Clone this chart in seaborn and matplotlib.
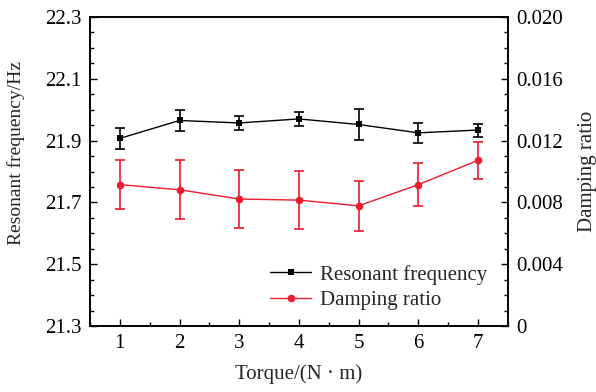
import matplotlib
matplotlib.use("Agg")
import matplotlib.pyplot as plt
import numpy as np
import pandas as pd
import seaborn as sns
from matplotlib.ticker import MultipleLocator, FixedLocator

# Data
torque = [1, 2, 3, 4, 5, 6, 7]
freq = [21.907, 21.965, 21.957, 21.970, 21.952, 21.925, 21.934]
freq_err = [0.035, 0.035, 0.023, 0.023, 0.050, 0.033, 0.021]
damping = [0.00915, 0.00882, 0.00822, 0.00815, 0.00778, 0.00915, 0.01072]
damping_err = [0.0016, 0.0019, 0.0019, 0.0019, 0.0016, 0.0014, 0.0012]
freq_ticks = [21.3, 21.5, 21.7, 21.9, 22.1, 22.3]
damp_ticks = [0, 0.004, 0.008, 0.012, 0.016, 0.020]

df = pd.DataFrame({"Torque": torque, "Freq": freq, "FreqErr": freq_err,
                   "Damping": damping, "DampErr": damping_err})

sns.set_style("white")
plt.rcParams["font.family"] = ["Liberation Serif", "DejaVu Serif"]

red = "#ee1a2e"
fs = 15

fig = plt.figure(figsize=(5.96, 3.92), dpi=100)
ax = fig.add_axes([0.151, 0.168, 0.701, 0.789])
ax2 = ax.twinx()

# Resonant frequency
sns.lineplot(data=df, x="Torque", y="Freq", ax=ax, color="black", marker="s",
             markersize=5, markeredgewidth=0, linewidth=1.0, label="Resonant frequency",
             legend=False)
ax.errorbar(df["Torque"], df["Freq"], yerr=df["FreqErr"], fmt="none",
            ecolor="black", elinewidth=1.2, capsize=3.5, capthick=1.2)

# Damping ratio
sns.lineplot(data=df, x="Torque", y="Damping", ax=ax2, color=red, marker="o",
             markersize=5.5, markeredgewidth=0, linewidth=1.0, label="Damping ratio",
             legend=False)
ax2.errorbar(df["Torque"], df["Damping"], yerr=df["DampErr"], fmt="none",
             ecolor=red, elinewidth=1.2, capsize=3.5, capthick=1.2)

ax.xaxis.set_major_locator(FixedLocator(torque))
ax.xaxis.set_minor_locator(MultipleLocator(0.5))
ax.set_yticks(freq_ticks)
ax.set_yticklabels([f"{v:.1f}" for v in freq_ticks])
ax.yaxis.set_minor_locator(MultipleLocator(0.05))
ax2.set_yticks(damp_ticks)
ax2.set_yticklabels(["0" if v == 0 else f"{v:.3f}" for v in damp_ticks])
ax2.yaxis.set_minor_locator(MultipleLocator(0.001))

ax.set_xlim(0.5, 7.5)
ax.set_ylim(21.3, 22.3)
ax2.set_ylim(0, 0.020)

for a in (ax, ax2):
    for s in a.spines.values():
        s.set_color("black")
        s.set_linewidth(1.2)
    a.tick_params(which="both", direction="in", labelsize=fs, colors="black")
    a.tick_params(which="major", length=5, width=1.0)
    a.tick_params(which="minor", length=3, width=1.0)

ax.tick_params(axis="y", which="both", left=True, right=False, pad=6)
ax.tick_params(axis="x", which="both", bottom=True, top=False, pad=6)
ax2.tick_params(axis="y", which="both", right=True, left=False, pad=6)

ax.set_xlabel("Torque/(N · m)", fontsize=fs, labelpad=8)
ax.set_ylabel("Resonant frequency/Hz", fontsize=14)
ax.yaxis.set_label_coords(-0.155, 0.56)
ax2.set_ylabel("Damping ratio", fontsize=fs, rotation=90, labelpad=11)

h1, l1 = ax.get_legend_handles_labels()
h2, l2 = ax2.get_legend_handles_labels()
ax2.legend(h1 + h2, l1 + l2, loc="lower right", bbox_to_anchor=(0.995, -0.01),
           frameon=False, fontsize=fs, handlelength=2.0, handletextpad=0.4,
           labelspacing=0.3)

fig.savefig("out.png", dpi=100)
